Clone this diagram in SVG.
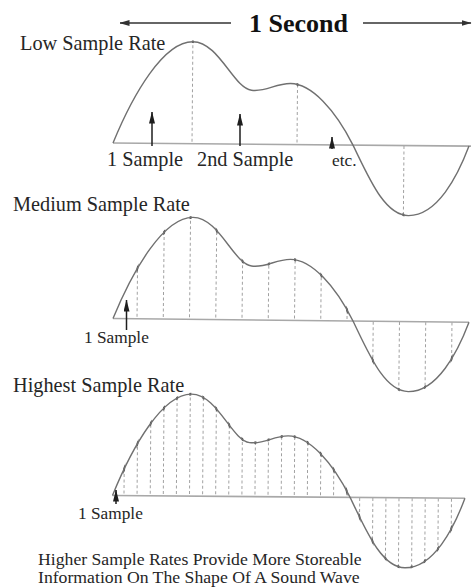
<svg xmlns="http://www.w3.org/2000/svg" xmlns:xlink="http://www.w3.org/1999/xlink" width="473" height="587" viewBox="0 0 473 587">
<style>
  text { font-family: "Liberation Serif", "Times New Roman", serif; fill: #262626; }
  .title { font-size: 26px; font-weight: bold; fill: #111; }
  .lbl { font-size: 20.3px; }
  .sm { font-size: 17.3px; }
  .wave { fill: none; stroke: #707070; stroke-width: 1.4; }
  .base { stroke: #a8a8a8; stroke-width: 1.6; }
  .samp { fill: none; stroke: #a0a0a0; stroke-width: 1; stroke-dasharray: 3 2.5; }
  .dots { fill: none; stroke: #555; stroke-width: 2; }
  .arr { fill: none; stroke: #1e1e1e; stroke-width: 1.5; }
  .span { fill: none; stroke: #333; stroke-width: 1.4; }
</style>
<defs>
  <path id="wave" d="M0,0 C20,-50 50,-102 79,-102 C105,-102 120,-56 138,-54 C152,-52 162,-61 177,-61 C198,-61 222,-35 240,0 C256,32 272,70 296,70 C325,70 345,30 356,0"/>
  <clipPath id="area"><use href="#wave" xlink:href="#wave"/></clipPath>
  <mask id="onCurve"><use href="#wave" xlink:href="#wave" fill="none" stroke="#fff" stroke-width="2.6"/></mask>
  <marker id="head" viewBox="0 0 12 6" refX="11.5" refY="3" markerWidth="12" markerHeight="6" markerUnits="userSpaceOnUse" orient="auto">
    <path d="M0,0 L12,3 L0,6 Z" fill="#1e1e1e"/>
  </marker>
  <marker id="spanHead" viewBox="0 0 10 6" refX="9.5" refY="3" markerWidth="10" markerHeight="6" markerUnits="userSpaceOnUse" orient="auto">
    <path d="M0,0 L10,3 L0,6 Z" fill="#333"/>
  </marker>
</defs>

<g id="title">
  <text class="title" x="249" y="32">1 Second</text>
</g>

<g id="panel-low">
  <text class="lbl" x="20" y="50">Low Sample Rate</text>
  <g transform="translate(113,143) rotate(0.5)">
    <line class="base" x1="0" y1="0" x2="358" y2="0"/>
    <path class="samp" clip-path="url(#area)" d="M79,-115V85M184,-115V85M291,-115V85"/>
    <path class="dots" mask="url(#onCurve)" d="M79,-115V85M184,-115V85M291,-115V85"/>
    <use href="#wave" xlink:href="#wave" class="wave"/>
  </g>
  <text class="lbl" x="107" y="165.5">1 Sample</text>
  <text class="lbl" x="197" y="165.5">2nd Sample</text>
  <text class="sm" x="332" y="166">etc.</text>
</g>

<g id="panel-medium">
  <text class="lbl" x="13" y="210.5">Medium Sample Rate</text>
  <g transform="translate(113,318.5) rotate(0.6)">
    <line class="base" x1="0" y1="0" x2="356" y2="0"/>
    <path class="samp" clip-path="url(#area)" d="M24,-115V85M50.25,-115V85M76.5,-115V85M102.75,-115V85M129,-115V85M155.25,-115V85M181.5,-115V85M207.75,-115V85M234,-115V85M260.25,-115V85M286.5,-115V85M312.75,-115V85M339,-115V85"/>
    <path class="dots" mask="url(#onCurve)" d="M24,-115V85M50.25,-115V85M76.5,-115V85M102.75,-115V85M129,-115V85M155.25,-115V85M181.5,-115V85M207.75,-115V85M234,-115V85M260.25,-115V85M286.5,-115V85M312.75,-115V85M339,-115V85"/>
    <use href="#wave" xlink:href="#wave" class="wave"/>
  </g>
  <text class="sm" x="84" y="343">1 Sample</text>
</g>

<g id="panel-highest">
  <text class="lbl" x="13" y="392">Highest Sample Rate</text>
  <g transform="translate(112.5,495.5) rotate(0.45) scale(0.99,1)">
    <line class="base" x1="0" y1="0" x2="356" y2="0"/>
    <path class="samp" clip-path="url(#area)" d="M11.6,-115V85M24.8,-115V85M38.1,-115V85M51.3,-115V85M64.5,-115V85M77.8,-115V85M91,-115V85M104.2,-115V85M117.4,-115V85M130.7,-115V85M143.9,-115V85M157.1,-115V85M170.4,-115V85M183.6,-115V85M196.8,-115V85M210.1,-115V85M223.3,-115V85M236.5,-115V85M249.7,-115V85M263,-115V85M276.2,-115V85M289.4,-115V85M302.7,-115V85M315.9,-115V85M329.1,-115V85M342.4,-115V85"/>
    <path class="dots" mask="url(#onCurve)" d="M11.6,-115V85M24.8,-115V85M38.1,-115V85M51.3,-115V85M64.5,-115V85M77.8,-115V85M91,-115V85M104.2,-115V85M117.4,-115V85M130.7,-115V85M143.9,-115V85M157.1,-115V85M170.4,-115V85M183.6,-115V85M196.8,-115V85M210.1,-115V85M223.3,-115V85M236.5,-115V85M249.7,-115V85M263,-115V85M276.2,-115V85M289.4,-115V85M302.7,-115V85M315.9,-115V85M329.1,-115V85M342.4,-115V85"/>
    <use href="#wave" xlink:href="#wave" class="wave"/>
  </g>
  <text class="sm" x="78" y="519">1 Sample</text>
</g>

<g id="caption">
  <text class="sm" x="38" y="565" style="font-size:17.7px">Higher Sample Rates Provide More Storeable</text>
  <text class="sm" x="38" y="583" style="font-size:17.7px">Information On The Shape Of A Sound Wave</text>
</g>

<g id="connectors">
  <line class="span" x1="231" y1="23" x2="120" y2="23" marker-end="url(#spanHead)"/>
  <line class="span" x1="363" y1="23" x2="471" y2="23" marker-end="url(#spanHead)"/>
  <line class="arr" x1="152" y1="146" x2="152" y2="112" marker-end="url(#head)"/>
  <line class="arr" x1="240" y1="146" x2="240" y2="114" marker-end="url(#head)"/>
  <line class="arr" x1="332" y1="149" x2="332" y2="137" marker-end="url(#head)"/>
  <line class="arr" x1="126.5" y1="330" x2="126.5" y2="300" marker-end="url(#head)"/>
  <line class="arr" x1="116" y1="504" x2="116" y2="490" marker-end="url(#head)"/>
</g>
</svg>
